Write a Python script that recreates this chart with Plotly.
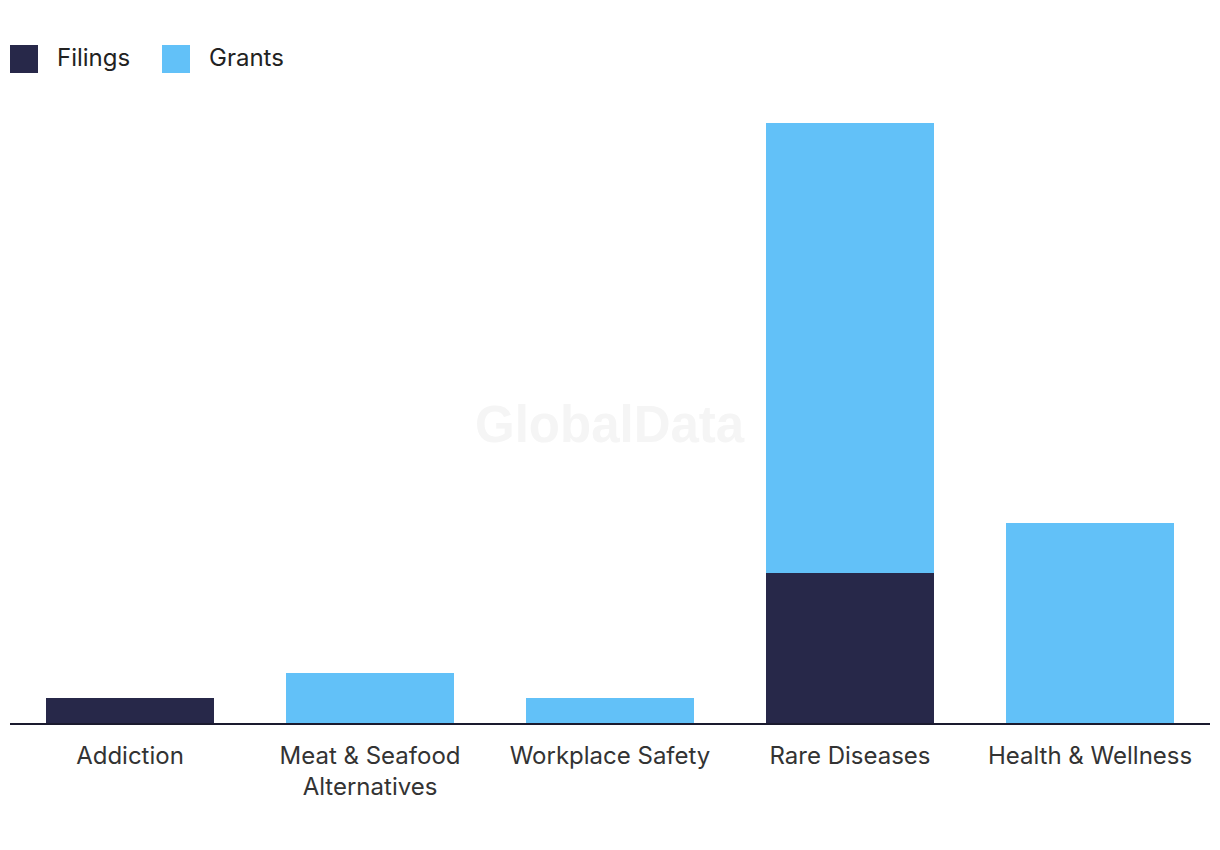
import plotly.graph_objects as go

categories = ["Addiction", "Meat & Seafood<br>Alternatives", "Workplace Safety", "Rare Diseases", "Health & Wellness"]
filings = [1, 0, 0, 6, 0]
grants = [0, 2, 1, 18, 8]

FILINGS_COLOR = "#272849"
GRANTS_COLOR = "#62C1F8"
FONT = "Inter, Roboto, sans-serif"
TEXT_COLOR = "#333333"

fig = go.Figure()
fig.add_trace(go.Bar(x=categories, y=filings, name="Filings", marker_color=FILINGS_COLOR,
                     marker_line_width=0, showlegend=False))
fig.add_trace(go.Bar(x=categories, y=grants, name="Grants", marker_color=GRANTS_COLOR,
                     marker_line_width=0, showlegend=False))

fig.update_layout(
    barmode="stack",
    bargap=0.3,
    width=1204, height=834,
    margin=dict(l=2, r=2, t=90, b=119),
    paper_bgcolor="white", plot_bgcolor="white",
    font=dict(family=FONT, size=24, color=TEXT_COLOR),
    xaxis=dict(showline=True, linecolor="#1a1a2e", linewidth=2, ticks="",
               tickfont=dict(size=24, color=TEXT_COLOR), showgrid=False,
               ticklabelstandoff=10),
    yaxis=dict(range=[0, 25], visible=False, showgrid=False, zeroline=False),
)

# Watermark
fig.add_annotation(text="<b>GlobalData</b>", xref="paper", yref="paper", x=0.5, y=0.478,
                   showarrow=False, font=dict(family="Liberation Sans, Arial, sans-serif", size=51, color="#f5f5f5"))

# Custom legend
legend_items = [("Filings", FILINGS_COLOR, 10, 55), ("Grants", GRANTS_COLOR, 162, 207)]
for name, color, sx, tx in legend_items:
    fig.add_shape(type="rect", xref="paper", yref="paper",
                  x0=(sx - 10) / 1200, x1=(sx + 28 - 10) / 1200,
                  y0=(723 - 73) / 625, y1=(723 - 45) / 625,
                  fillcolor=color, line_width=0)
    fig.add_annotation(text=name, xref="paper", yref="paper",
                       x=(tx - 10) / 1200, y=(723 - 58) / 625, xanchor="left", yanchor="middle",
                       showarrow=False, font=dict(size=24, color="#222222"))

fig.write_html("out.html")
